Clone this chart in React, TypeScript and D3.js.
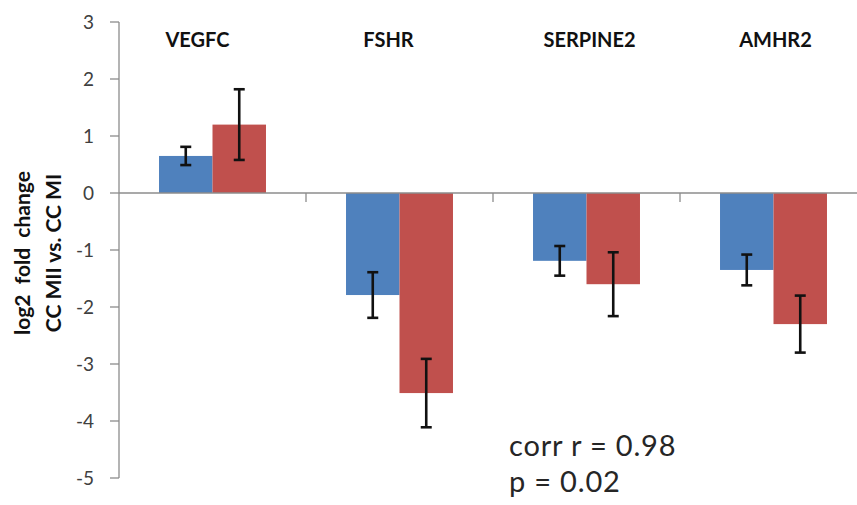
import React from "react";
import * as d3 from "d3";

const categories = ["VEGFC", "FSHR", "SERPINE2", "AMHR2"];
const seriesNames = ["s1", "s2"];
const seriesA = [0.65, -1.79, -1.19, -1.35];
const errA = [0.16, 0.4, 0.26, 0.27];
const seriesB = [1.2, -3.51, -1.6, -2.3];
const errB = [0.62, 0.6, 0.56, 0.5];
const yTicks = [3, 2, 1, 0, -1, -2, -3, -4, -5];
const colors = ["#4F81BD", "#C0504D"];
const labelDx = [-15, -11, 3, 2];

const W = 857;
const H = 505;
const FONT = "Lato, 'Open Sans', sans-serif";

export default function App() {
  const x0 = 119;
  const step = 187;
  const x = d3
    .scaleBand<string>()
    .domain(categories)
    .range([x0, x0 + step * categories.length])
    .paddingInner(0.428)
    .paddingOuter(0.214);
  const xs = d3.scaleBand<string>().domain(seriesNames).range([0, x.bandwidth()]);
  const y = d3.scaleLinear().domain([-5, 3]).range([478, 22]);
  const series = [
    { vals: seriesA, errs: errA },
    { vals: seriesB, errs: errB },
  ];
  const y0 = y(0);
  return (
    <svg width={W} height={H} style={{ position: "absolute", left: 0, top: 0, background: "#fff" }}>
      <rect width={W} height={H} fill="#fff" />
      {series.map((s, si) =>
        categories.map((c, ci) => {
          const v = s.vals[ci];
          const bx = (x(c) as number) + (xs(seriesNames[si]) as number);
          return (
            <rect
              key={`b${si}${ci}`}
              x={bx}
              width={xs.bandwidth()}
              y={Math.min(y(v), y0)}
              height={Math.abs(y(v) - y0)}
              fill={colors[si]}
            />
          );
        })
      )}
      <line x1={x0} x2={x0} y1={y(3)} y2={y(-5)} stroke="#8c8c8c" strokeWidth={1.3} />
      <line x1={x0} x2={W} y1={y0} y2={y0} stroke="#8c8c8c" strokeWidth={1.3} />
      {yTicks.map((t) => (
        <g key={t}>
          <line x1={x0 - 9} x2={x0} y1={y(t)} y2={y(t)} stroke="#8c8c8c" strokeWidth={1.3} />
          <text
            x={x0 - 25}
            y={y(t)}
            dy="0.36em"
            textAnchor="end"
            fontFamily={FONT}
            fontSize={19}
            fill="#404040"
          >
            {t}
          </text>
        </g>
      ))}
      {categories.map((c, i) =>
        i === 0 ? null : (
          <line
            key={`d${c}`}
            x1={x0 + step * i}
            x2={x0 + step * i}
            y1={y0}
            y2={y0 + 9}
            stroke="#8c8c8c"
            strokeWidth={1.3}
          />
        )
      )}
      {series.map((s, si) =>
        categories.map((c, ci) => {
          const cx = (x(c) as number) + (xs(seriesNames[si]) as number) + xs.bandwidth() / 2;
          const hi = y(s.vals[ci] + s.errs[ci]);
          const lo = y(s.vals[ci] - s.errs[ci]);
          return (
            <g key={`e${si}${ci}`} stroke="#111" strokeWidth={2.6}>
              <line x1={cx} x2={cx} y1={hi} y2={lo} />
              <line x1={cx - 5.5} x2={cx + 5.5} y1={hi} y2={hi} />
              <line x1={cx - 5.5} x2={cx + 5.5} y1={lo} y2={lo} />
            </g>
          );
        })
      )}
      {categories.map((c, i) => (
        <text
          key={`l${c}`}
          x={(x(c) as number) + x.bandwidth() / 2 + labelDx[i]}
          y={47}
          textAnchor="middle"
          fontFamily={FONT}
          fontWeight="bold"
          fontSize={20}
          fill="#111"
        >
          {c}
        </text>
      ))}
      <g transform="translate(30,253) rotate(-90)">
        <text textAnchor="middle" fontFamily={FONT} fontWeight="bold" fontSize={21} fill="#111">
          <tspan x={0} y={0}>{"log2\u00A0\u00A0fold\u00A0\u00A0change"}</tspan>
          <tspan x={0} y={31}>CC MII vs. CC MI</tspan>
        </text>
      </g>
      <text x={509} y={456} fontFamily={FONT} fontSize={29} letterSpacing={0.8} fill="#262626">
        corr r = 0.98
      </text>
      <text x={509} y={492} fontFamily={FONT} fontSize={29} letterSpacing={0.8} fill="#262626">
        p = 0.02
      </text>
    </svg>
  );
}
